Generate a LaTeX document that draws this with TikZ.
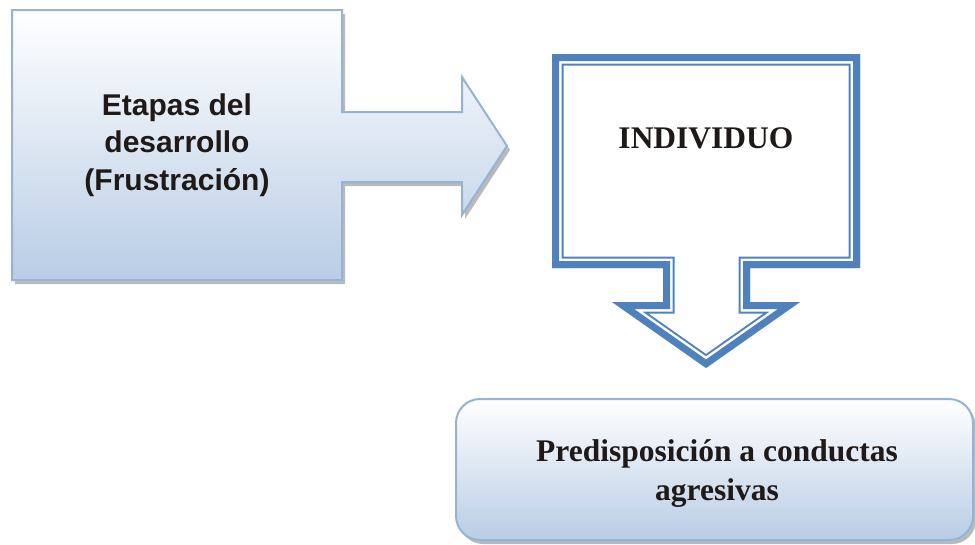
\documentclass[tikz,border=0pt]{standalone}
\usepackage{fontspec}
\setmainfont{Liberation Serif}
\newfontfamily\sansbold{Liberation Sans}
\usetikzlibrary{shadows}

\definecolor{boxline}{HTML}{95B3D7}
\definecolor{boxfill}{HTML}{B9CDE5}
\definecolor{calloutblue}{HTML}{4F81BD}
\definecolor{inktext}{HTML}{1F1A17}

% outline of the down arrow callout
\newcommand{\indivoutline}{(552,54) -- (860,54) -- (860,268) -- (750,268) -- (750,302) -- (800,302) -- (706,368) -- (612,302) -- (663,302) -- (663,268) -- (552,268) -- cycle}

\tikzset{
  softbox/.style={draw=boxline, line width=2pt, top color=white, bottom color=boxfill,
    drop shadow={shadow xshift=3pt, shadow yshift=-4pt, fill=black!45, opacity=0.6}},
  labeltext/.style={text=inktext, align=center, font=\bfseries\fontsize{31.5}{39}\selectfont},
}

\begin{document}
\begin{tikzpicture}[x=1pt,y=-1pt]
  \useasboundingbox (0,0) rectangle (975,544);

  % Draw left arrow callout
  \path[softbox] (12,10) -- (342,10) -- (342,112) -- (462,112) -- (462,77) -- (507,146)
    -- (462,215) -- (462,182) -- (342,182) -- (342,280) -- (12,280) -- cycle;
  \node[labeltext, font=\sansbold\bfseries\fontsize{30}{37.5}\selectfont] (etapas) at (177,145)
    {Etapas del\\desarrollo\\(Frustración)};

  % Draw down arrow callout, thick and thin border
  \begin{scope}
    \clip \indivoutline;
    \foreach \w/\c in {23/calloutblue, 19/white, 14/calloutblue}
      \draw[line width=\w pt, draw=\c, miter limit=20] \indivoutline;
  \end{scope}
  \node[labeltext] (individuo) at (706,138) {INDIVIDUO};

  % Draw result box
  \node[softbox, rounded corners=24pt, minimum width=517pt, minimum height=141pt]
    (resultbox) at (714.5,469.5) {};
  \node[labeltext] (predisposicion) at (717,474) {Predisposición a conductas\\agresivas};
\end{tikzpicture}
\end{document}
